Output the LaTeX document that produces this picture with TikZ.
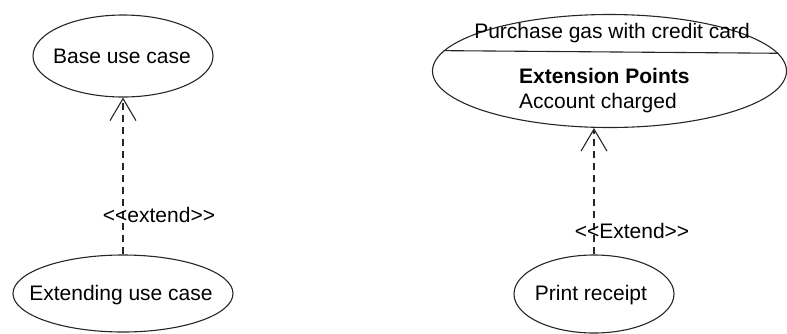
\documentclass[tikz,border=0pt]{standalone}
\usepackage{fontspec}
\setmainfont{Liberation Sans}
\usetikzlibrary{shapes.geometric,arrows.meta}
\begin{document}
\begin{tikzpicture}[x=1pt,y=-1pt,
  font=\fontsize{21}{25}\selectfont,
  usecase/.style={draw=black!85, line width=1.1pt, ellipse, inner sep=0pt},
  extendline/.style={draw=black!85, line width=1.1pt, dash pattern=on 7pt off 5pt,
    -{Straight Barb[length=22pt,width=26pt,line width=1.1pt]}},
  stereo/.style={inner sep=1pt}]
\useasboundingbox (0,0) rectangle (787,333);

% left pair: plain use cases
\node[usecase, minimum width=180pt, minimum height=82pt] (base) at (123,56) {};
\node (basetxt) at (122,56) {Base use case};
\node[usecase, minimum width=220pt, minimum height=77pt] (ext) at (123,293.5) {};
\node (exttxt) at (121,295) {Extending use case};
\draw[extendline] (ext.north) -- (base.south);
\node[stereo] (lbl1) at (159,215) {{<}{<}extend{>}{>}};

% right pair: use case with an extension point compartment
\node[usecase, minimum width=354pt, minimum height=113pt] (buy) at (609.5,71) {};
\draw[draw=black!85, line width=1.1pt] (buy.173.5) -- (buy.6.5);
\node (buytxt) at (612,33) {Purchase gas with credit card};
\node[anchor=west, inner sep=0pt] (extpts) at (519,76) {\bfseries Extension Points};
\node[anchor=west, inner sep=0pt] (acct) at (519,103) {Account charged};
\node[usecase, minimum width=160pt, minimum height=78pt] (rcpt) at (594,294) {};
\node (rcpttxt) at (591,295) {Print receipt};
\draw[extendline] (rcpt.north) -- (rcpt.north |- buy.south);
\node[stereo] (lbl2) at (632,231) {{<}{<}Extend{>}{>}};
\end{tikzpicture}
\end{document}
